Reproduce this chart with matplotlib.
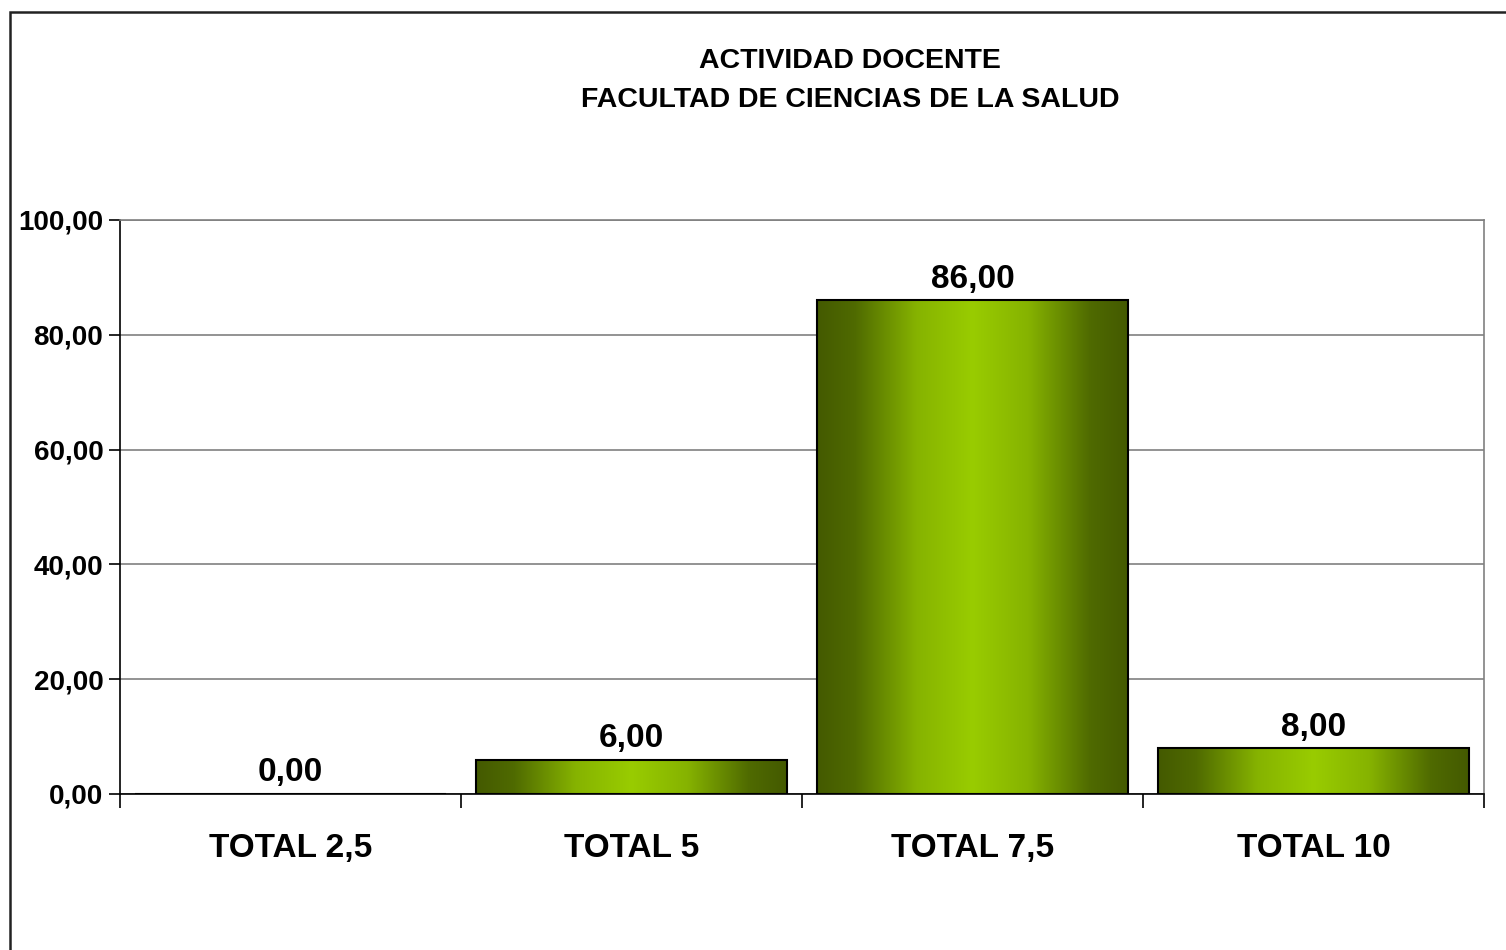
import numpy as np
import matplotlib.pyplot as plt
from matplotlib.colors import LinearSegmentedColormap
from matplotlib.patches import Rectangle

# Data
categories = ['TOTAL 2,5', 'TOTAL 5', 'TOTAL 7,5', 'TOTAL 10']
values = [0.00, 6.00, 86.00, 8.00]
title_lines = ['ACTIVIDAD DOCENTE', 'FACULTAD DE CIENCIAS DE LA SALUD']

plt.rcParams['font.family'] = ['Liberation Sans', 'DejaVu Sans']
plt.rcParams['font.weight'] = 'bold'

fig = plt.figure(figsize=(15.06, 9.5), dpi=100)
ax = fig.add_axes([120 / 1506, 1 - 794 / 950, 1364 / 1506, 574 / 950])

# figure frame (top and left lines visible, rest runs off the image)
fig.patches.append(Rectangle((9.5 / 1506, -0.05), 1.1, 1 - 11.5 / 950 + 0.05,
                             transform=fig.transFigure, fill=False,
                             edgecolor='#222222', linewidth=1.8, zorder=0))

x = np.arange(len(categories))
bar_width = 0.91
bars = ax.bar(x, values, width=bar_width, color='none', edgecolor='black',
              linewidth=1.5, zorder=3)

# horizontal gradient fill: dark olive at edges, bright green in the middle
cmap = LinearSegmentedColormap.from_list(
    'olive', [(0.0, '#445a00'), (0.12, '#4f6a00'), (0.32, '#86b300'),
              (0.5, '#99cc00'), (0.68, '#86b300'), (0.88, '#4f6a00'),
              (1.0, '#445a00')])
grad = np.linspace(0, 1, 256).reshape(1, -1)
for b in bars:
    h = b.get_height()
    if h <= 0:
        continue
    x0 = b.get_x()
    im = ax.imshow(grad, cmap=cmap, aspect='auto', interpolation='bilinear',
                   extent=(x0, x0 + b.get_width(), 0, h), zorder=2)
    im.set_clip_path(b)

for xi, v in zip(x, values):
    ax.annotate(f'{v:.2f}'.replace('.', ','), (xi, v), xytext=(0, 4),
                textcoords='offset points', ha='center', va='bottom',
                fontsize=24, fontweight='bold', zorder=4)

ax.set_xlim(-0.5, len(categories) - 0.5)
ax.set_ylim(0, 100)
ax.set_yticks(np.arange(0, 101, 20))
ax.set_yticklabels([f'{t:.2f}'.replace('.', ',') for t in np.arange(0, 101, 20)],
                   fontsize=20, fontweight='bold')
ax.tick_params(axis='y', direction='out', length=8, width=1.2, pad=4)

ax.set_xticks(np.arange(-0.5, len(categories), 1))
ax.set_xticklabels([])
ax.tick_params(axis='x', which='major', direction='out', length=10, width=1.2)
ax.set_xticks(x, minor=True)
ax.set_xticklabels(categories, minor=True, fontsize=24, fontweight='bold')
ax.tick_params(axis='x', which='minor', length=0, pad=28)

ax.grid(axis='y', color='#808080', linewidth=1.2, zorder=0)
ax.set_axisbelow(True)
for side in ['top', 'right']:
    ax.spines[side].set_color('#808080')
    ax.spines[side].set_linewidth(1.2)
for side in ['left', 'bottom']:
    ax.spines[side].set_color('black')
    ax.spines[side].set_linewidth(1.2)

fig.text(850 / 1506, 1 - 61 / 950, title_lines[0], ha='center', va='center',
         fontsize=20.5, fontweight='bold')
fig.text(850 / 1506, 1 - 100 / 950, title_lines[1], ha='center', va='center',
         fontsize=20.5, fontweight='bold')

fig.savefig('out.png', dpi=100, facecolor='white')
